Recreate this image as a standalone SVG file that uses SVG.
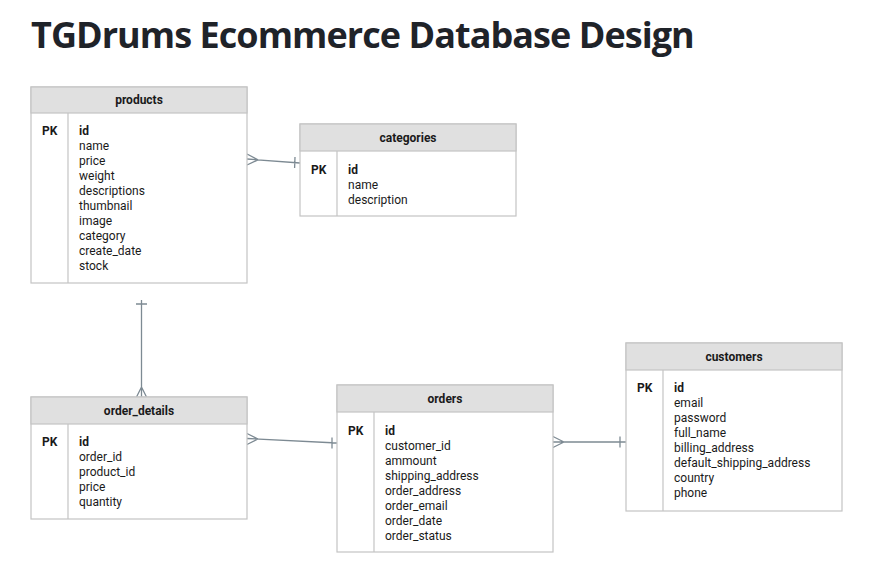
<svg xmlns="http://www.w3.org/2000/svg" width="877" height="577" viewBox="0 0 877 577">
<style>
.box{fill:#fff;stroke:#c4c4c4;stroke-width:1.2}
.hdr{fill:#e0e0e0;stroke:#c4c4c4;stroke-width:1.2}
.div{stroke:#c4c4c4;stroke-width:1.2}
.t{font-family:Roboto,"Liberation Sans",sans-serif;font-size:12px;fill:#1a1a1a}
.b{font-weight:bold}
.h{font-family:Roboto,"Liberation Sans",sans-serif;font-size:12px;font-weight:bold;fill:#1a1a1a;text-anchor:middle}
.c{fill:none;stroke:#7d8a93;stroke-width:1.3}
.title{font-family:"Open Sans",sans-serif;font-size:36px;font-weight:bold;fill:#1f2329;letter-spacing:-0.95px}
</style>
<rect width="877" height="577" fill="#fff"/>
<text class="title" x="31" y="48">TGDrums Ecommerce Database Design</text>

<g id="connectors">
  <path class="c" d="M247,159 L300,163 M258,159.8 L247,154 M258,159.8 L247,165 M295,157 L294.6,168"/>
  <path class="c" d="M141.5,300 L141.5,397 M136,304 L147,304 M141.5,387 L136.5,397 M141.5,387 L146.5,397"/>
  <path class="c" d="M247,438.5 L337,443 M258,439 L247,433.5 M258,439 L247,444.5 M332,437.5 L332,448.5"/>
  <path class="c" d="M553,442 L626,442 M564,442 L553,436.5 M564,442 L553,447.5 M620,436.5 L620,447.5"/>
</g>

<g id="products">
  <rect class="box" x="31" y="87" width="216" height="196"/>
  <rect class="hdr" x="31" y="87" width="216" height="26"/>
  <line class="div" x1="68" y1="113" x2="68" y2="283"/>
  <text class="h" x="139" y="104">products</text>
  <text class="t b" x="42" y="135">PK</text>
  <text class="t" x="79" y="135"><tspan class="b">id</tspan><tspan x="79" dy="15">name</tspan><tspan x="79" dy="15">price</tspan><tspan x="79" dy="15">weight</tspan><tspan x="79" dy="15">descriptions</tspan><tspan x="79" dy="15">thumbnail</tspan><tspan x="79" dy="15">image</tspan><tspan x="79" dy="15">category</tspan><tspan x="79" dy="15">create_date</tspan><tspan x="79" dy="15">stock</tspan></text>
</g>

<g id="categories">
  <rect class="box" x="300" y="124" width="216" height="92"/>
  <rect class="hdr" x="300" y="124" width="216" height="27"/>
  <line class="div" x1="337" y1="151" x2="337" y2="216"/>
  <text class="h" x="408" y="142">categories</text>
  <text class="t b" x="311" y="174">PK</text>
  <text class="t" x="348" y="174"><tspan class="b">id</tspan><tspan x="348" dy="15">name</tspan><tspan x="348" dy="15">description</tspan></text>
</g>

<g id="order_details">
  <rect class="box" x="31" y="397" width="216" height="122"/>
  <rect class="hdr" x="31" y="397" width="216" height="27"/>
  <line class="div" x1="68" y1="424" x2="68" y2="519"/>
  <text class="h" x="139" y="415">order_details</text>
  <text class="t b" x="42" y="446">PK</text>
  <text class="t" x="79" y="446"><tspan class="b">id</tspan><tspan x="79" dy="15">order_id</tspan><tspan x="79" dy="15">product_id</tspan><tspan x="79" dy="15">price</tspan><tspan x="79" dy="15">quantity</tspan></text>
</g>

<g id="orders">
  <rect class="box" x="337" y="385" width="216" height="167"/>
  <rect class="hdr" x="337" y="385" width="216" height="27"/>
  <line class="div" x1="374" y1="412" x2="374" y2="552"/>
  <text class="h" x="445" y="403">orders</text>
  <text class="t b" x="348" y="435">PK</text>
  <text class="t" x="385" y="435"><tspan class="b">id</tspan><tspan x="385" dy="15">customer_id</tspan><tspan x="385" dy="15">ammount</tspan><tspan x="385" dy="15">shipping_address</tspan><tspan x="385" dy="15">order_address</tspan><tspan x="385" dy="15">order_email</tspan><tspan x="385" dy="15">order_date</tspan><tspan x="385" dy="15">order_status</tspan></text>
</g>

<g id="customers">
  <rect class="box" x="626" y="343" width="216" height="168"/>
  <rect class="hdr" x="626" y="343" width="216" height="27"/>
  <line class="div" x1="663" y1="370" x2="663" y2="511"/>
  <text class="h" x="734" y="361">customers</text>
  <text class="t b" x="637" y="392">PK</text>
  <text class="t" x="674" y="392"><tspan class="b">id</tspan><tspan x="674" dy="15">email</tspan><tspan x="674" dy="15">password</tspan><tspan x="674" dy="15">full_name</tspan><tspan x="674" dy="15">billing_address</tspan><tspan x="674" dy="15">default_shipping_address</tspan><tspan x="674" dy="15">country</tspan><tspan x="674" dy="15">phone</tspan></text>
</g>
</svg>
